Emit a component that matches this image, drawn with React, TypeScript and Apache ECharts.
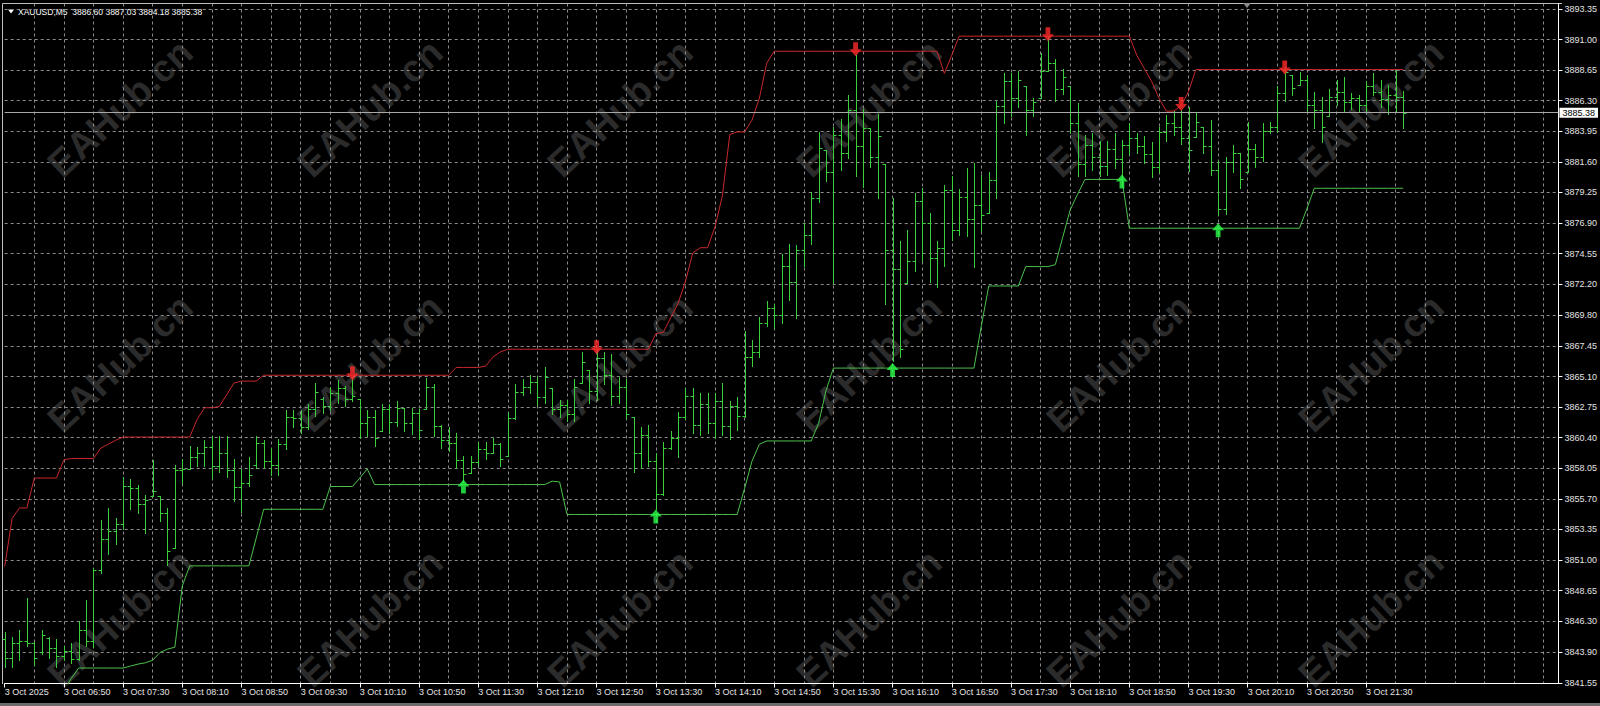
import React, { useEffect, useRef } from "react";
import * as echarts from "echarts";

// [open, high, low, close] per M5 bar, starting 3 Oct 06:10
const ohlc: [number, number, number, number][] = [
  [3844.9, 3845.5, 3842.8, 3843.5], [3843.5, 3845.1, 3842.8, 3844.6], [3844.6, 3845.6, 3843.3, 3844.8], [3844.8, 3848.1, 3844.4, 3844.6],
  [3844.6, 3844.7, 3842.9, 3843.5], [3843.9, 3845.6, 3843.8, 3845.2], [3845.0, 3845.1, 3843.5, 3844.2], [3844.2, 3844.9, 3842.8, 3843.6],
  [3843.6, 3844.4, 3843.3, 3844.0], [3844.0, 3844.6, 3843.1, 3843.4], [3843.4, 3846.3, 3843.3, 3845.6], [3845.6, 3847.9, 3844.4, 3844.8],
  [3844.8, 3850.4, 3844.3, 3850.2], [3850.2, 3854.1, 3850.0, 3852.6], [3852.6, 3855.0, 3851.5, 3853.2], [3853.2, 3854.2, 3852.2, 3853.8],
  [3853.8, 3857.4, 3853.4, 3856.7], [3856.7, 3857.2, 3854.9, 3856.5], [3856.5, 3856.8, 3854.6, 3855.3], [3855.3, 3856.0, 3853.1, 3855.6],
  [3855.9, 3858.7, 3855.9, 3856.3], [3855.9, 3855.9, 3854.0, 3854.6], [3854.6, 3855.0, 3850.6, 3851.7], [3851.9, 3858.3, 3851.9, 3857.9],
  [3857.9, 3858.8, 3856.9, 3858.0], [3858.0, 3859.8, 3858.0, 3858.9], [3858.9, 3859.7, 3858.2, 3859.2], [3859.2, 3860.2, 3858.2, 3859.7],
  [3859.7, 3860.5, 3857.3, 3858.2], [3858.2, 3860.5, 3857.8, 3859.2], [3859.2, 3860.5, 3857.4, 3857.9], [3857.9, 3858.8, 3855.5, 3856.6],
  [3856.6, 3858.0, 3854.7, 3856.9], [3856.9, 3858.9, 3856.7, 3857.5], [3858.3, 3860.5, 3858.1, 3860.0], [3860.0, 3860.2, 3858.1, 3858.6],
  [3858.6, 3859.6, 3857.5, 3858.3], [3858.3, 3860.3, 3857.5, 3859.9], [3859.9, 3862.5, 3859.5, 3862.0], [3862.0, 3862.5, 3861.2, 3861.9],
  [3861.9, 3862.5, 3860.8, 3861.2], [3861.2, 3863.0, 3861.1, 3862.6], [3862.6, 3864.6, 3862.1, 3863.9], [3863.4, 3863.5, 3862.3, 3862.8],
  [3862.8, 3864.3, 3862.5, 3863.8], [3863.8, 3864.8, 3863.1, 3864.2], [3864.2, 3864.4, 3862.8, 3863.4], [3863.4, 3865.1, 3863.2, 3863.6],
  [3863.4, 3863.4, 3860.4, 3861.5], [3861.5, 3862.5, 3860.5, 3862.0], [3862.0, 3862.5, 3859.8, 3860.4], [3860.9, 3863.0, 3860.9, 3862.6],
  [3862.6, 3863.0, 3860.8, 3861.6], [3861.6, 3863.2, 3861.3, 3862.7], [3862.7, 3862.7, 3860.9, 3861.5], [3861.5, 3862.7, 3860.7, 3862.3],
  [3862.3, 3862.6, 3860.3, 3861.0], [3862.6, 3865.0, 3862.6, 3864.3], [3864.3, 3864.5, 3860.5, 3861.3], [3861.3, 3861.4, 3859.6, 3860.2],
  [3860.2, 3861.2, 3859.4, 3860.0], [3860.0, 3860.8, 3858.1, 3858.7], [3858.7, 3859.0, 3857.0, 3857.6], [3857.7, 3859.0, 3857.7, 3858.5],
  [3858.5, 3860.1, 3858.3, 3859.5], [3859.5, 3860.1, 3858.8, 3859.2], [3859.2, 3860.4, 3859.2, 3859.9], [3859.9, 3860.0, 3858.2, 3858.8],
  [3859.0, 3862.3, 3859.0, 3861.9], [3861.9, 3864.5, 3861.8, 3863.9], [3863.9, 3864.9, 3863.7, 3864.3], [3864.3, 3865.2, 3863.8, 3864.7],
  [3864.7, 3865.1, 3862.9, 3863.5], [3863.5, 3865.8, 3863.1, 3865.1], [3864.2, 3864.2, 3862.2, 3862.6], [3862.6, 3863.3, 3862.0, 3862.9],
  [3862.9, 3863.3, 3861.7, 3862.2], [3862.2, 3864.9, 3861.7, 3864.3], [3864.6, 3867.0, 3864.6, 3866.2], [3865.6, 3865.6, 3863.1, 3864.0],
  [3864.0, 3867.2, 3863.3, 3866.5], [3866.5, 3867.0, 3864.5, 3865.2], [3865.2, 3866.8, 3862.9, 3863.6], [3863.6, 3865.1, 3863.1, 3864.3],
  [3864.3, 3864.9, 3861.9, 3862.2], [3862.0, 3862.0, 3857.8, 3859.2], [3859.2, 3861.2, 3858.1, 3860.6], [3860.6, 3861.4, 3858.2, 3858.6],
  [3858.6, 3859.2, 3854.9, 3856.1], [3856.1, 3860.1, 3856.0, 3859.6], [3859.6, 3860.9, 3859.5, 3860.4], [3860.4, 3862.4, 3858.9, 3862.0],
  [3862.0, 3864.2, 3861.8, 3863.6], [3863.6, 3864.2, 3860.8, 3861.4], [3861.4, 3863.8, 3860.6, 3863.0], [3863.0, 3863.8, 3860.8, 3861.5],
  [3861.5, 3863.8, 3860.4, 3863.2], [3863.2, 3864.6, 3860.6, 3861.3], [3861.3, 3863.2, 3860.3, 3862.8], [3862.8, 3863.5, 3861.0, 3862.1],
  [3862.1, 3868.6, 3862.0, 3866.6], [3866.6, 3867.9, 3865.9, 3867.0], [3867.0, 3869.7, 3866.6, 3869.2], [3869.2, 3870.9, 3869.0, 3870.4],
  [3870.4, 3870.7, 3868.8, 3869.8], [3869.8, 3874.5, 3869.2, 3873.6], [3873.6, 3875.3, 3871.0, 3872.4], [3872.4, 3875.2, 3869.6, 3874.8],
  [3874.8, 3876.9, 3873.6, 3876.0], [3876.0, 3879.3, 3875.3, 3878.8], [3878.8, 3883.9, 3878.5, 3882.7], [3882.5, 3882.5, 3880.1, 3880.8],
  [3880.8, 3884.3, 3872.3, 3883.7], [3883.7, 3884.9, 3881.0, 3882.3], [3882.3, 3886.7, 3881.9, 3885.6], [3885.6, 3889.9, 3880.5, 3882.8],
  [3882.8, 3885.7, 3879.7, 3884.2], [3884.2, 3884.2, 3881.2, 3882.0], [3882.0, 3885.3, 3878.8, 3883.6], [3881.4, 3881.4, 3870.7, 3874.8],
  [3874.8, 3878.8, 3866.3, 3873.4], [3873.4, 3875.5, 3866.6, 3867.2], [3872.3, 3876.4, 3872.3, 3874.0], [3874.0, 3879.2, 3873.2, 3878.6],
  [3878.6, 3879.6, 3874.0, 3876.9], [3876.9, 3877.7, 3872.4, 3874.2], [3874.2, 3875.5, 3872.0, 3875.0], [3875.0, 3879.8, 3873.6, 3879.4],
  [3879.4, 3880.5, 3875.6, 3876.4], [3876.4, 3879.5, 3876.0, 3878.9], [3878.9, 3881.1, 3875.9, 3877.2], [3877.2, 3881.5, 3873.5, 3878.3],
  [3878.3, 3880.6, 3876.3, 3877.5], [3877.7, 3880.8, 3877.7, 3880.2], [3880.2, 3886.3, 3878.8, 3885.9], [3885.9, 3888.4, 3884.6, 3887.8],
  [3887.8, 3888.4, 3885.1, 3886.5], [3886.5, 3888.6, 3885.8, 3887.9], [3887.4, 3887.4, 3883.7, 3885.6], [3885.6, 3886.5, 3885.1, 3886.2],
  [3886.5, 3890.0, 3886.5, 3888.6], [3888.6, 3891.2, 3888.6, 3889.2], [3889.2, 3889.5, 3886.3, 3887.2], [3887.2, 3888.7, 3886.8, 3888.1],
  [3887.4, 3887.4, 3883.8, 3884.6], [3884.6, 3886.1, 3880.5, 3881.4], [3881.4, 3883.7, 3880.5, 3882.9], [3882.9, 3883.8, 3881.0, 3882.0],
  [3882.0, 3883.2, 3880.5, 3881.3], [3881.3, 3883.2, 3880.6, 3882.6], [3882.6, 3883.8, 3881.1, 3881.8], [3881.8, 3883.3, 3880.3, 3882.9],
  [3882.9, 3884.6, 3882.2, 3883.4], [3883.4, 3883.8, 3882.3, 3882.8], [3882.8, 3883.6, 3881.5, 3882.2], [3882.2, 3883.1, 3880.4, 3881.2],
  [3881.2, 3884.3, 3880.8, 3883.9], [3883.9, 3885.2, 3883.2, 3884.6], [3884.6, 3885.6, 3883.7, 3884.3], [3884.3, 3885.6, 3883.0, 3883.4],
  [3883.4, 3885.8, 3880.9, 3882.5], [3883.5, 3885.4, 3883.5, 3884.7], [3884.3, 3884.3, 3882.3, 3882.8], [3882.8, 3884.8, 3880.6, 3881.0],
  [3881.0, 3881.7, 3877.5, 3878.0], [3878.0, 3882.0, 3877.6, 3881.6], [3881.6, 3882.9, 3880.8, 3882.3], [3882.3, 3882.3, 3879.6, 3880.3],
  [3880.8, 3884.7, 3880.8, 3882.6], [3882.6, 3883.0, 3881.2, 3882.0], [3882.0, 3884.6, 3881.7, 3884.0], [3884.0, 3884.7, 3883.8, 3884.3],
  [3884.3, 3887.4, 3883.9, 3886.9], [3886.9, 3888.9, 3886.3, 3888.5], [3888.3, 3888.3, 3886.7, 3887.3], [3887.5, 3888.5, 3887.5, 3887.9],
  [3887.9, 3888.3, 3885.4, 3886.0], [3886.0, 3887.0, 3884.2, 3885.6], [3885.6, 3886.6, 3883.1, 3884.3], [3885.1, 3887.2, 3885.1, 3886.6],
  [3886.6, 3887.9, 3886.0, 3887.0], [3887.0, 3888.1, 3885.5, 3886.2], [3886.2, 3886.9, 3885.7, 3886.5], [3886.5, 3886.7, 3885.5, 3886.0],
  [3886.0, 3887.8, 3885.5, 3887.4], [3887.4, 3888.4, 3886.7, 3887.0], [3887.0, 3887.9, 3885.8, 3886.4], [3886.4, 3887.5, 3885.3, 3886.7],
  [3886.7, 3888.7, 3885.5, 3886.6], [3886.60, 3887.03, 3884.18, 3885.38],
];

// upper (red) channel line
const upperBand: (number | null)[] = [
  3850.5, 3854.2, 3855.0, 3855.0, 3857.3, 3857.3, 3857.3, 3857.3, 3858.7, 3858.8,
  3858.8, 3858.8, 3858.8, 3859.6, 3859.9, 3860.2, 3860.45, 3860.45, 3860.45, 3860.45,
  3860.45, 3860.45, 3860.45, 3860.45, 3860.45, 3860.45, 3861.8, 3862.7, 3862.7, 3862.8,
  3863.7, 3864.6, 3864.75, 3864.75, 3864.75, 3865.2, 3865.2, 3865.2, 3865.2, 3865.2,
  3865.2, 3865.2, 3865.2, 3865.2, 3865.2, 3865.2, 3865.2, 3865.2, 3865.2, 3865.2,
  3865.2, 3865.2, 3865.2, 3865.2, 3865.2, 3865.2, 3865.2, 3865.2, 3865.2, 3865.2,
  3865.2, 3865.8, 3865.8, 3865.8, 3865.8, 3865.9, 3866.6, 3867.0, 3867.2, 3867.2,
  3867.2, 3867.2, 3867.2, 3867.2, 3867.2, 3867.2, 3867.2, 3867.2, 3867.2, 3867.2,
  3867.2, 3867.2, 3867.2, 3867.2, 3867.2, 3867.2, 3867.2, 3867.2, 3868.4, 3868.5,
  3869.6, 3870.7, 3872.4, 3874.6, 3875.0, 3875.0, 3876.6, 3879.0, 3883.7, 3883.9,
  3883.9, 3884.8, 3886.5, 3889.2, 3890.1, 3890.1, 3890.1, 3890.1, 3890.1, 3890.1,
  3890.1, 3890.1, 3890.1, 3890.1, 3890.1, 3890.1, 3890.1, 3890.1, 3890.1, 3890.1,
  3890.1, 3890.1, 3890.1, 3890.1, 3890.1, 3890.1, 3890.1, 3888.4, 3889.8, 3891.26,
  3891.26, 3891.26, 3891.26, 3891.26, 3891.26, 3891.26, 3891.26, 3891.26, 3891.26, 3891.26,
  3891.26, 3891.26, 3891.26, 3891.26, 3891.26, 3891.26, 3891.26, 3891.26, 3891.26, 3891.26,
  3891.26, 3891.26, 3891.26, 3889.8, 3888.8, 3887.8, 3886.5, 3885.5, 3885.5, 3885.9,
  3887.0, 3888.7, 3888.7, 3888.7, 3888.7, 3888.7, 3888.7, 3888.7, 3888.7, 3888.7,
  3888.7, 3888.7, 3888.7, 3888.7, 3888.7, 3888.7, 3888.7, 3888.7, 3888.7, 3888.7,
  3888.7, 3888.7, 3888.7, 3888.7, 3888.7, 3888.7, 3888.7, 3888.7, 3888.7, 3888.7,
];

// lower (green) channel line
const lowerBand: (number | null)[] = [
  null, null, null, null, null, null, null, null, 3841.0, 3841.9,
  3842.7, 3842.7, 3842.7, 3842.7, 3842.7, 3842.7, 3842.7, 3842.85, 3843.0, 3843.1,
  3843.3, 3843.9, 3844.15, 3844.3, 3849.0, 3850.55, 3850.55, 3850.55, 3850.55, 3850.55,
  3850.55, 3850.55, 3850.55, 3850.55, 3852.7, 3854.9, 3854.9, 3854.9, 3854.9, 3854.9,
  3854.9, 3854.9, 3854.9, 3854.9, 3856.65, 3856.65, 3856.65, 3856.65, 3857.3, 3858.0,
  3856.8, 3856.8, 3856.8, 3856.8, 3856.8, 3856.8, 3856.8, 3856.8, 3856.8, 3856.8,
  3856.8, 3856.8, 3856.8, 3856.8, 3856.8, 3856.8, 3856.8, 3856.8, 3856.8, 3856.8,
  3856.8, 3856.8, 3856.8, 3856.8, 3857.06, 3857.0, 3854.5, 3854.5, 3854.5, 3854.5,
  3854.5, 3854.5, 3854.5, 3854.5, 3854.5, 3854.5, 3854.5, 3854.5, 3854.5, 3854.5,
  3854.5, 3854.5, 3854.5, 3854.5, 3854.5, 3854.5, 3854.5, 3854.5, 3854.5, 3854.5,
  3856.5, 3858.6, 3859.9, 3860.15, 3860.15, 3860.15, 3860.15, 3860.15, 3860.15, 3860.15,
  3861.5, 3864.0, 3865.75, 3865.75, 3865.75, 3865.75, 3865.75, 3865.75, 3865.75, 3865.75,
  3865.75, 3865.75, 3865.75, 3865.75, 3865.75, 3865.75, 3865.75, 3865.75, 3865.75, 3865.75,
  3865.75, 3865.75, 3869.0, 3872.06, 3872.06, 3872.06, 3872.06, 3872.06, 3873.55, 3873.55,
  3873.55, 3873.55, 3873.7, 3875.8, 3877.9, 3879.1, 3880.25, 3880.25, 3880.25, 3880.25,
  3880.25, 3880.25, 3876.5, 3876.5, 3876.5, 3876.5, 3876.5, 3876.5, 3876.5, 3876.5,
  3876.5, 3876.5, 3876.5, 3876.5, 3876.5, 3876.5, 3876.5, 3876.5, 3876.5, 3876.5,
  3876.5, 3876.5, 3876.5, 3876.5, 3876.5, 3876.5, 3878.0, 3879.57, 3879.57, 3879.57,
  3879.57, 3879.57, 3879.57, 3879.57, 3879.57, 3879.57, 3879.57, 3879.57, 3879.57, 3879.57,
];

const sellSignals = [47, 80, 115, 141, 159, 173];
const buySignals = [62, 88, 120, 151, 164];

const priceTicks = [
  3841.55, 3843.9, 3846.3, 3848.65, 3851.0, 3853.35, 3855.7, 3858.05, 3860.4, 3862.75, 3865.1, 3867.45,
  3869.8, 3872.2, 3874.55, 3876.9, 3879.25, 3881.6, 3883.95, 3886.3, 3888.65, 3891.0, 3893.35,
];
const lastPrice = 3885.38;
const symbolTitle = "XAUUSD,M5  3886.60 3887.03 3884.18 3885.38";
const watermarkText = "EAHub.cn";
const firstLabel = "3 Oct 2025";
const dayPrefix = "3 Oct";
const slotCount = 211; // visible bar slots incl. right-side shift
const startMinute = 6 * 60 + 10;

const timeLabels: string[] = [];
for (let k = 0; k < slotCount; k++) {
  const m = startMinute + 5 * k;
  const hh = String(Math.floor(m / 60)).padStart(2, "0");
  const mm = String(m % 60).padStart(2, "0");
  timeLabels.push(k === 0 ? firstLabel : `${dayPrefix} ${hh}:${mm}`);
}

const FONT = '"Liberation Sans", Arial, sans-serif';
const BAR_COLOR = "#3ccf3c";
const GRID_COLOR = "#8c8c8c";

export default function App() {
  const ref = useRef<HTMLDivElement>(null);
  useEffect(() => {
    document.body.style.margin = "0";
    document.body.style.background = "#000";
    const chart = echarts.init(ref.current!, null, { renderer: "svg" });

    const wmCols = [120, 370, 620, 869, 1119, 1371];
    const wmRows = [108, 363, 618];
    const watermarks: any[] = [];
    wmRows.forEach((y) =>
      wmCols.forEach((x) =>
        watermarks.push({
          type: "text",
          x,
          y,
          rotation: 0.75,
          z: -10,
          silent: true,
          style: {
            text: watermarkText,
            fill: "#2b2b2b",
            fontSize: 38,
            fontWeight: "bold",
            fontFamily: FONT,
            align: "center",
            verticalAlign: "middle",
          },
        })
      )
    );

    const option: any = {
      animation: false,
      backgroundColor: "#000",
      grid: { left: 4.7, right: 38, top: 3.5, bottom: 22.5, containLabel: false },
      xAxis: {
        type: "category",
        data: timeLabels,
        boundaryGap: false,
        axisLine: { show: true, lineStyle: { color: "#ffffff", width: 1 } },
        axisTick: {
          show: true,
          length: 4,
          interval: (i: number) => i % 8 === 0 && i < ohlc.length,
          lineStyle: { color: "#ffffff" },
        },
        axisLabel: {
          interval: (i: number) => i % 8 === 0 && i < ohlc.length,
          color: "#e4e4e4",
          fontSize: 9,
          fontFamily: FONT,
          align: "left",
          margin: 4,
        },
        splitLine: {
          show: true,
          interval: (i: number) => i % 4 === 0 && i > 0,
          lineStyle: { color: GRID_COLOR, type: [3, 3], width: 1 },
        },
      },
      yAxis: {
        type: "value",
        position: "right",
        min: 3841.51,
        max: 3893.77,
        axisLine: { show: true, lineStyle: { color: "#ffffff", width: 1 } },
        axisTick: { show: true, length: 4, customValues: priceTicks, lineStyle: { color: "#ffffff" } },
        axisLabel: {
          customValues: priceTicks,
          formatter: (v: number) => v.toFixed(2),
          color: "#e4e4e4",
          fontSize: 9,
          fontFamily: FONT,
          margin: 6,
        },
        splitLine: { show: true, lineStyle: { color: GRID_COLOR, type: [3, 3], width: 1 } },
      },
      graphic: [
        ...watermarks,
        { type: "line", silent: true, shape: { x1: 2.5, y1: 3.5, x2: 1562, y2: 3.5 }, style: { stroke: "#bdbdbd", lineWidth: 1 } },
        { type: "line", silent: true, shape: { x1: 2.5, y1: 3.5, x2: 2.5, y2: 684 }, style: { stroke: "#bdbdbd", lineWidth: 1 } },
        { type: "rect", silent: true, shape: { x: 0, y: 703, width: 1600, height: 3 }, style: { fill: "#6a6a6a" } },
        { type: "polygon", silent: true, shape: { points: [[8, 9.5], [14, 9.5], [11, 13.5]] }, style: { fill: "#ffffff" } },
        {
          type: "text",
          x: 18,
          y: 12,
          silent: true,
          style: { text: symbolTitle, fill: "#ffffff", fontSize: 8.5, fontFamily: FONT, verticalAlign: "middle" },
        },
        { type: "polygon", silent: true, shape: { points: [[1243, 3], [1251, 3], [1247, 8]] }, style: { fill: "#8a8a8a" } },
      ],
      series: [
        {
          type: "custom",
          name: "bars",
          z: 3,
          data: ohlc.map((b, i) => [i, b[0], b[1], b[2], b[3]]),
          encode: { x: 0, y: [1, 2, 3, 4] },
          renderItem: (_params: any, api: any) => {
            const i = api.value(0);
            const pO = api.coord([i, api.value(1)]);
            const pH = api.coord([i, api.value(2)]);
            const pL = api.coord([i, api.value(3)]);
            const pC = api.coord([i, api.value(4)]);
            const x = Math.round(pH[0]) + 0.5;
            const st = { stroke: BAR_COLOR, lineWidth: 1 };
            const yo = Math.round(pO[1]) + 0.5;
            const yc = Math.round(pC[1]) + 0.5;
            return {
              type: "group",
              children: [
                { type: "line", shape: { x1: x, y1: Math.round(pH[1]), x2: x, y2: Math.round(pL[1]) + 1 }, style: st },
                { type: "line", shape: { x1: x - 3, y1: yo, x2: x, y2: yo }, style: st },
                { type: "line", shape: { x1: x, y1: yc, x2: x + 3, y2: yc }, style: st },
              ],
            };
          },
        },
        {
          type: "line",
          name: "upper",
          z: 4,
          data: upperBand,
          symbol: "none",
          connectNulls: false,
          lineStyle: { color: "#c8282b", width: 1 },
        },
        {
          type: "line",
          name: "lower",
          z: 4,
          data: lowerBand,
          symbol: "none",
          connectNulls: false,
          lineStyle: { color: "#4cc24c", width: 1 },
          markLine: {
            silent: true,
            symbol: ["none", "none"],
            lineStyle: { color: "#a8a8a8", type: "solid", width: 1 },
            label: {
              show: true,
              position: "end",
              formatter: lastPrice.toFixed(2),
              color: "#000",
              backgroundColor: "#fff",
              padding: [1, 3, 0, 3],
              fontSize: 9,
              fontFamily: FONT,
              distance: 1,
            },
            data: [{ yAxis: lastPrice }],
          },
        },
        {
          type: "scatter",
          name: "sell",
          z: 6,
          data: sellSignals.map((i) => [i, upperBand[i]]),
          symbol: "path://M3,0 L7,0 L7,6 L10,6 L5,12 L0,6 L3,6 Z",
          symbolSize: [12, 14],
          symbolOffset: [0, -2],
          itemStyle: { color: "#ff2a2a" },
        },
        {
          type: "scatter",
          name: "buy",
          z: 6,
          data: buySignals.map((i) => [i, lowerBand[i]]),
          symbol: "path://M5,0 L10,6 L7,6 L7,12 L3,12 L3,6 L0,6 Z",
          symbolSize: [12, 14],
          symbolOffset: [0, 2],
          itemStyle: { color: "#2cff4a" },
        },
      ],
    };
    chart.setOption(option);
    return () => chart.dispose();
  }, []);
  return (
    <div
      ref={ref}
      style={{ position: "fixed", left: 0, top: 0, width: 1600, height: 706, background: "#000" }}
    />
  );
}
